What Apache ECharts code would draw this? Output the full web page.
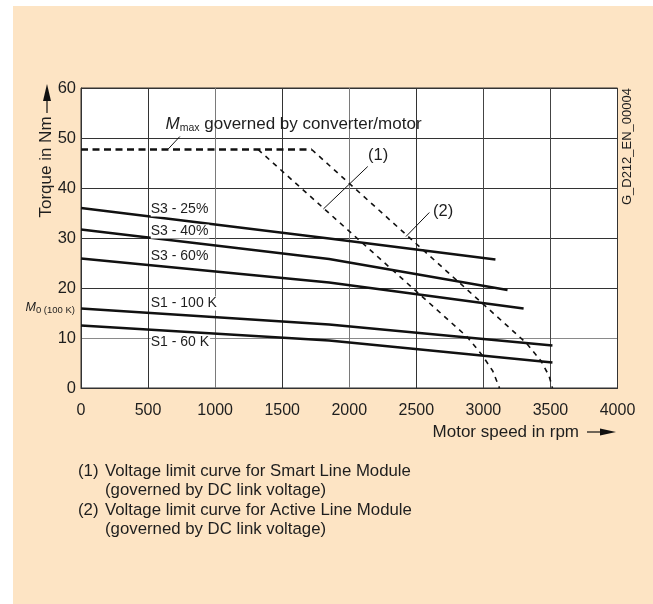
<!DOCTYPE html>
<html>
<head>
<meta charset="utf-8">
<script src="https://cdn.jsdelivr.net/npm/echarts@6/dist/echarts.min.js"></script>
<style>
  html, body { margin: 0; padding: 0; background: #ffffff; }
  #chart { width: 653px; height: 604px; }
</style>
</head>
<body>
<div id="chart"></div>
<script>
// Speed / torque characteristic of a servo motor
const speedTicks = [0, 500, 1000, 1500, 2000, 2500, 3000, 3500, 4000];
const torqueTicks = [0, 10, 20, 30, 40, 50, 60];

// [speed in rpm, torque in Nm]
const s3_25 = [[0, 36.0], [1850, 29.9], [3090, 25.7]];
const s3_40 = [[0, 31.7], [1850, 25.8], [3180, 19.6]];
const s3_60 = [[0, 25.9], [1850, 21.1], [3300, 15.9]];
const s1_100K = [[0, 15.9], [1850, 12.7], [3515, 8.5]];
const s1_60K = [[0, 12.5], [1850, 9.5], [3515, 5.1]];
const mMax = [[0, 47.7], [1720, 47.7]];
const limitSmartLine = [[1320, 47.7], [2880, 10.2], [2990, 6.6], [3070, 3.4], [3120, 0]];
const limitActiveLine = [[1720, 47.7], [3320, 9.0], [3430, 5.4], [3490, 2.4], [3515, 0]];
const m0Torque = 16;

const curveNames = ['S3 - 25%', 'S3 - 40%', 'S3 - 60%', 'S1 - 100 K', 'S1 - 60 K'];
const footnotes = [
  ['(1)', 'Voltage limit curve for Smart Line Module', '(governed by DC link voltage)'],
  ['(2)', 'Voltage limit curve for Active Line Module', '(governed by DC link voltage)']
];

const FONT = '"Liberation Sans", Arial, Helvetica, sans-serif';
const INK = '#1e1e1e';
const PEACH = '#fde4c4';

const chart = echarts.init(document.getElementById('chart'), null, { renderer: 'canvas' });

function solid(name, data) {
  return {
    name, type: 'line', data, showSymbol: false, silent: true, z: 5,
    lineStyle: { color: '#111', width: 2.3 }
  };
}
function dashed(name, data, width, dash) {
  return {
    name, type: 'line', data, showSymbol: false, silent: true, z: 4,
    lineStyle: { color: '#111', width, type: dash }
  };
}

chart.setOption({
  backgroundColor: '#ffffff',
  animation: false,
  grid: {
    left: 81, right: 35.5, top: 88, bottom: 216,
    show: true, backgroundColor: '#ffffff', borderColor: '#333', borderWidth: 1
  },
  xAxis: {
    type: 'value', min: speedTicks[0], max: speedTicks[speedTicks.length - 1], interval: 500,
    axisLine: { show: true, lineStyle: { color: '#333', width: 1 } },
    axisTick: { show: false },
    axisLabel: { color: INK, fontFamily: FONT, fontSize: 16, margin: 15, formatter: v => String(v) },
    splitLine: { show: true, lineStyle: { color: ['#333', '#333', '#7a7a7a', '#333', '#7a7a7a', '#333', '#444', '#444', '#333'], width: 1 } }
  },
  yAxis: {
    type: 'value', min: torqueTicks[0], max: torqueTicks[torqueTicks.length - 1], interval: 10,
    axisLine: { show: true, lineStyle: { color: '#333', width: 1 } },
    axisTick: { show: false },
    axisLabel: { color: INK, fontFamily: FONT, fontSize: 16.5, margin: 5, formatter: v => String(v) },
    splitLine: { show: true, lineStyle: { color: ['#333', '#8a8a8a', '#333', '#333', '#333', '#333', '#333'], width: 1 } }
  },
  series: [
    solid(curveNames[0], s3_25),
    solid(curveNames[1], s3_40),
    solid(curveNames[2], s3_60),
    solid(curveNames[3], s1_100K),
    solid(curveNames[4], s1_60K),
    dashed('Mmax', mMax, 2.4, [7, 4.5]),
    dashed('(1)', limitSmartLine, 1.6, [5, 5]),
    dashed('(2)', limitActiveLine, 1.6, [5, 5])
  ]
});

// annotations, placed through the axes' data coordinates
const px = (x, y) => chart.convertToPixel({ gridIndex: 0 }, [x, y]);

function leader(a, b) {
  const p = px(a[0], a[1]), q = px(b[0], b[1]);
  return { type: 'line', silent: true, z: 20,
    shape: { x1: p[0], y1: p[1], x2: q[0], y2: q[1] },
    style: { stroke: '#111', lineWidth: 1 } };
}
function label(text, at, opts) {
  const p = px(at[0], at[1]);
  return Object.assign({ type: 'text', silent: true, z: 20, x: p[0], y: p[1],
    style: Object.assign({ text, fill: INK, font: '14px ' + FONT, verticalAlign: 'middle', align: 'left' }, opts || {}) });
}

const curveLabelPos = [[520, 35.7], [520, 31.3], [520, 26.4], [520, 16.9], [520, 9.1]];

const graphics = [
  // peach panel behind the chart
  { type: 'rect', z: -10, silent: true, shape: { x: 13, y: 6, width: 640, height: 598 }, style: { fill: PEACH } }
];

curveNames.forEach((n, i) => {
  graphics.push(label(n, curveLabelPos[i], { backgroundColor: '#ffffff', padding: [0, 1, 0, 0] }));
});

// M_max label
const mp = px(630, 52.8);
graphics.push({
  type: 'text', silent: true, z: 20, x: mp[0], y: mp[1],
  style: {
    text: '{m|M}{s|max}{t| governed by converter/motor}',
    verticalAlign: 'middle', align: 'left',
    rich: {
      m: { font: 'italic 17px ' + FONT, fill: INK, lineHeight: 20 },
      s: { font: '10.5px ' + FONT, fill: INK, padding: [9, 0, 0, 0], lineHeight: 20 },
      t: { font: '17px ' + FONT, fill: INK, lineHeight: 20 }
    }
  }
});
graphics.push(leader([650, 47.8], [737, 50.3]));

// (1) and (2)
graphics.push(label('(1)', [2215, 46.6], { font: '16.5px ' + FONT, align: 'center' }));
graphics.push(leader([2138, 44.3], [1807, 35.8]));
graphics.push(label('(2)', [2700, 35.4], { font: '16.5px ' + FONT, align: 'center' }));
graphics.push(leader([2597, 35.1], [2423, 30.3]));

// M0 (100 K) on the torque axis
const m0 = px(0, m0Torque);
graphics.push({
  type: 'text', silent: true, z: 20, x: m0[0] - 6, y: m0[1],
  style: {
    text: '{m|M}{s|0 (100 K)}',
    verticalAlign: 'middle', align: 'right',
    rich: {
      m: { font: 'italic 12.5px ' + FONT, fill: INK, lineHeight: 16 },
      s: { font: '9.5px ' + FONT, fill: INK, padding: [5, 0, 0, 0], lineHeight: 16 }
    }
  }
});

// axis titles with arrows
graphics.push({
  type: 'text', silent: true, z: 20, x: 46, y: 167, rotation: Math.PI / 2,
  style: { text: 'Torque in Nm', font: '17px ' + FONT, fill: INK, align: 'center', verticalAlign: 'middle' }
});
graphics.push({ type: 'line', silent: true, z: 20, shape: { x1: 47, y1: 113, x2: 47, y2: 96 }, style: { stroke: '#111', lineWidth: 1.2 } });
graphics.push({ type: 'polygon', silent: true, z: 20, shape: { points: [[47, 84], [43, 101], [51, 101]] }, style: { fill: '#111' } });

graphics.push({
  type: 'text', silent: true, z: 20, x: 579, y: 432,
  style: { text: 'Motor speed in rpm', font: '17px ' + FONT, fill: INK, align: 'right', verticalAlign: 'middle' }
});
graphics.push({ type: 'line', silent: true, z: 20, shape: { x1: 587, y1: 432, x2: 603, y2: 432 }, style: { stroke: '#111', lineWidth: 1.2 } });
graphics.push({ type: 'polygon', silent: true, z: 20, shape: { points: [[616, 432], [600, 428.5], [600, 435.5]] }, style: { fill: '#111' } });

// drawing number
graphics.push({
  type: 'text', silent: true, z: 20, x: 627, y: 88, rotation: Math.PI / 2,
  style: { text: 'G_D212_EN_00004', font: '13px ' + FONT, fill: INK, align: 'right', verticalAlign: 'middle' }
});

// footnotes
footnotes.forEach((f, i) => {
  const y0 = 471 + i * 39;
  graphics.push({ type: 'text', silent: true, z: 20, x: 78, y: y0,
    style: { text: f[0], font: '16.8px ' + FONT, fill: INK, verticalAlign: 'middle' } });
  graphics.push({ type: 'text', silent: true, z: 20, x: 105, y: y0,
    style: { text: f[1], font: '16.8px ' + FONT, fill: INK, verticalAlign: 'middle' } });
  graphics.push({ type: 'text', silent: true, z: 20, x: 105, y: y0 + 19.5,
    style: { text: f[2], font: '16.8px ' + FONT, fill: INK, verticalAlign: 'middle' } });
});

chart.setOption({ graphic: graphics });
</script>
</body>
</html>
